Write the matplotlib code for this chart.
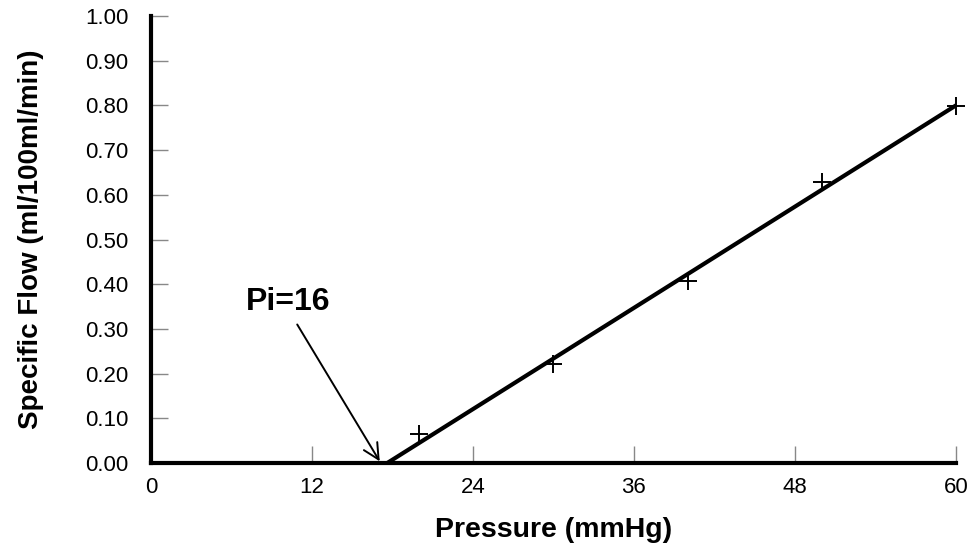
import matplotlib
matplotlib.use('Agg')
import matplotlib.pyplot as plt

# measured points
pressure = [20, 30, 40, 50, 60]
flow = [0.065, 0.221, 0.407, 0.629, 0.799]

# fitted line: from intercept on x axis to the last point
fit_x = [17.6, 60]
fit_y = [0.0, 0.80]

x_ticks = [0, 12, 24, 36, 48, 60]
y_ticks = [0.0, 0.1, 0.2, 0.3, 0.4, 0.5, 0.6, 0.7, 0.8, 0.9, 1.0]

plt.rcParams['font.family'] = ['Liberation Sans', 'DejaVu Sans']

fig = plt.figure(figsize=(9.74, 5.5), dpi=100)
ax = fig.add_axes([0.155, 0.158, 0.8265, 0.813])

ax.plot(fit_x, fit_y, color='black', lw=3, solid_capstyle='butt',
        zorder=3, clip_on=False)
ax.plot(pressure, flow, ls='none', marker='+', color='black',
        markersize=13, markeredgewidth=1.4, zorder=4, clip_on=False)

# intercept label and arrow
ax.text(7.1, 0.36, 'Pi=16', fontsize=23, fontweight='bold',
        va='center', ha='left')
ax.annotate('', xy=(17.05, 0.004), xytext=(10.9, 0.31),
            arrowprops=dict(arrowstyle='->', color='black', lw=1.4,
                            mutation_scale=28, shrinkA=0, shrinkB=0))

ax.set_xlim(0, 60)
ax.set_ylim(0, 1.0)
ax.set_xticks(x_ticks)
ax.set_yticks(y_ticks)
ax.set_yticklabels([f'{v:.2f}' for v in y_ticks])

for s in ['top', 'right']:
    ax.spines[s].set_visible(False)
for s in ['left', 'bottom']:
    ax.spines[s].set_linewidth(3)

ax.tick_params(direction='in', length=12, width=1, color='#888888',
               labelsize=16)
ax.tick_params(axis='y', pad=16)
ax.tick_params(axis='x', pad=10)

ax.set_xlabel('Pressure (mmHg)', fontsize=20.5, fontweight='bold', labelpad=14)
ax.set_ylabel('Specific Flow (ml/100ml/min)', fontsize=20, fontweight='bold',
              labelpad=30)

fig.savefig('out.png', dpi=100, facecolor='white')
